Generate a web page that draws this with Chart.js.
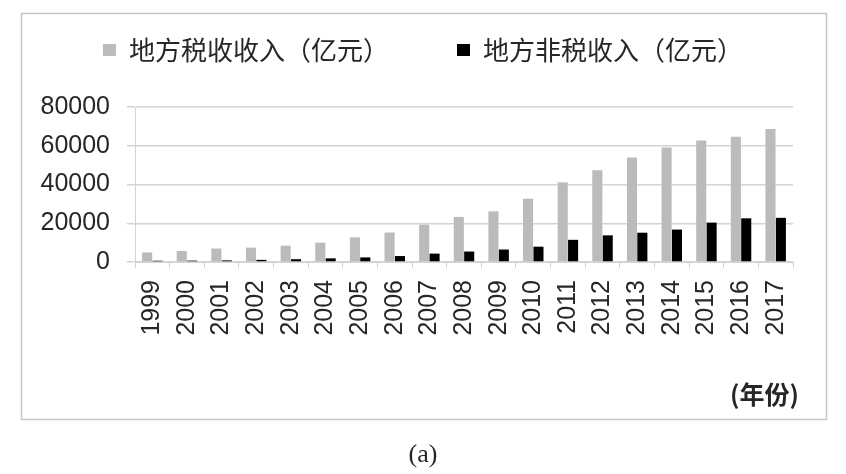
<!DOCTYPE html>
<html>
<head>
<meta charset="utf-8">
<script src="https://cdn.jsdelivr.net/npm/chart.js@4"></script>
<style>
  html, body { margin: 0; padding: 0; background: #fff; }
  #wrap { width: 846px; height: 474px; }
</style>
</head>
<body>
<div id="wrap"><canvas id="c" width="846" height="474"></canvas></div>
<script>
const years = ["1999", "2000", "2001", "2002", "2003", "2004", "2005", "2006", "2007", "2008",
  "2009", "2010", "2011", "2012", "2013", "2014", "2015", "2016", "2017"];
const taxRevenue = [4935, 5689, 6963, 7406, 8413, 10000, 12727, 15228, 19252, 23255,
  26157, 32702, 41107, 47319, 53891, 59140, 62662, 64692, 68673];
const nonTaxRevenue = [660, 717, 840, 1109, 1437, 1893, 2374, 3075, 4321, 5395,
  6445, 7911, 11440, 13759, 15120, 16737, 20340, 22547, 22796];
const yTicks = [0, 20000, 40000, 60000, 80000];

const GRID = "#d4d4d4";
const TEXT = "#262626";

// frame round the chart plus the loose captions
const framePlugin = {
  id: "frame",
  beforeInit(chart) {
    const fit = chart.legend.fit;
    chart.legend.fit = function () {
      const mw = this.maxWidth;
      this.maxWidth = 1200; // keep both items on one row
      fit.call(this);
      this.maxWidth = mw;
      this.width = mw;
      this.height = 94;
    };
  },
  afterLayout(chart) {
    // wide gap between items means a big label padding, so pull the legend up
    const lg = chart.legend;
    lg.top -= 44;
    lg.bottom -= 44;
    lg.left = 0;
    lg.right = 846;
    lg.width = 846;
  },
  beforeDraw(chart) {
    const ctx = chart.ctx;
    ctx.save();
    ctx.fillStyle = "#fff";
    ctx.fillRect(0, 0, chart.width, chart.height);
    ctx.strokeStyle = "#c6c6c6";
    ctx.lineWidth = 1.5;
    ctx.strokeRect(21.5, 13.5, 805, 406);
    ctx.restore();
  },
  afterDraw(chart) {
    const ctx = chart.ctx;
    ctx.save();
    ctx.fillStyle = TEXT;
    ctx.textBaseline = "middle";
    ctx.textAlign = "right";
    ctx.font = "bold 25px 'Noto Sans CJK SC'";
    ctx.fillText("(年份)", 799, 394);
    ctx.textAlign = "center";
    ctx.font = "26px 'Liberation Serif'";
    ctx.fillText("(a)", 423, 455);
    ctx.restore();
  },
};

new Chart(document.getElementById("c").getContext("2d"), {
  type: "bar",
  data: {
    labels: years,
    datasets: [{
      label: "地方税收收入（亿元）",
      data: taxRevenue,
      backgroundColor: "#bbbbbb",
      borderWidth: 0,
    }, {
      label: "地方非税收入（亿元）",
      data: nonTaxRevenue,
      backgroundColor: "#000000",
      borderWidth: 0,
    }],
  },
  options: {
    responsive: false,
    animation: false,
    devicePixelRatio: 1,
    layout: {
      padding: { left: 21, right: 53, top: 13, bottom: 112 },
    },
    datasets: {
      bar: { categoryPercentage: 0.6, barPercentage: 0.97 },
    },
    plugins: {
      tooltip: { enabled: false },
      legend: {
        position: "top",
        labels: {
          boxWidth: 13,
          boxHeight: 12,
          padding: 68,
          color: TEXT,
          font: { family: "'Noto Sans CJK SC'", size: 26 },
        },
      },
    },
    scales: {
      x: {
        afterFit(scale) { scale.height = 100; },
        grid: {
          display: true,
          drawOnChartArea: false,
          drawTicks: true,
          tickLength: 6,
          color: GRID,
          offset: true,
        },
        border: { display: true, color: GRID },
        ticks: {
          autoSkip: false,
          minRotation: 90,
          maxRotation: 90,
          padding: 12,
          color: TEXT,
          font: { family: "'Liberation Sans'", size: 25 },
        },
      },
      y: {
        min: 0,
        max: 80000,
        afterFit(scale) { scale.width = 114; },
        afterBuildTicks(scale) { scale.ticks = yTicks.map(v => ({ value: v })); },
        grid: { color: GRID, lineWidth: 1.5, drawTicks: true, tickLength: 8 },
        border: { display: true, color: GRID },
        ticks: {
          padding: 17,
          color: TEXT,
          font: { family: "'Liberation Sans'", size: 25 },
          callback: v => String(v),
        },
      },
    },
  },
  plugins: [framePlugin],
});
</script>
</body>
</html>
